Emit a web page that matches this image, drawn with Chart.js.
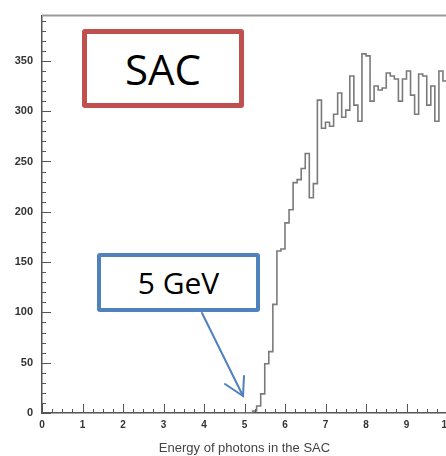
<!DOCTYPE html>
<html>
<head>
<meta charset="utf-8">
<script src="https://cdn.jsdelivr.net/npm/chart.js@4/dist/chart.umd.min.js"></script>
<style>
  html, body { margin: 0; padding: 0; background: #fff; width: 446px; height: 456px; overflow: hidden; }
  #wrap { position: relative; width: 470px; height: 456px; }
  canvas { position: absolute; left: 0; top: 0; }
  .callout { position: absolute; box-sizing: border-box; background: #fff; display: flex; align-items: center; justify-content: center; color: #000; font-family: "Liberation Sans Narrow", "Open Sans", sans-serif; border-radius: 3px; }
  #sac { left: 82px; top: 29px; width: 162px; height: 79px; border: 5px solid #c0504d; font-size: 42px; }
  #gev { left: 97px; top: 253px; width: 163px; height: 59px; border: 4px solid #4f81bd; font-size: 30px; }
  svg { position: absolute; left: 0; top: 0; }
</style>
</head>
<body>
<div id="wrap">
  <canvas id="chart" width="470" height="456"></canvas>
  <div class="callout" id="sac">SAC</div>
  <div class="callout" id="gev">5 GeV</div>
  <svg width="446" height="456">
    <g stroke="#4f81bd" stroke-width="2" fill="none" stroke-linecap="round">
      <line x1="202" y1="313" x2="243" y2="396"></line>
      <polyline points="225,384 243,396 244,376"></polyline>
    </g>
  </svg>
</div>
<script>
// bin lower edges (GeV), 0.1 GeV wide
const binEdges = [4.8, 4.9, 5.0, 5.1, 5.2, 5.3, 5.4, 5.5, 5.6, 5.7, 5.8, 5.9,
  6.0, 6.1, 6.2, 6.3, 6.4, 6.5, 6.6, 6.7, 6.8, 6.9,
  7.0, 7.1, 7.2, 7.3, 7.4, 7.5, 7.6, 7.7, 7.8, 7.9,
  8.0, 8.1, 8.2, 8.3, 8.4, 8.5, 8.6, 8.7, 8.8, 8.9,
  9.0, 9.1, 9.2, 9.3, 9.4, 9.5, 9.6, 9.7, 9.8, 9.9, 10.0];
// entries per bin (last entry repeats the final bin so the step reaches 10)
const binCounts = [0, 0, 0, 0, 2, 7, 19, 49, 61, 108, 161, 163,
  189, 202, 229, 232, 243, 258, 214, 228, 311, 283,
  289, 285, 297, 318, 294, 301, 335, 306, 290, 357,
  355, 310, 325, 321, 323, 338, 335, 332, 310, 332,
  340, 316, 297, 337, 335, 306, 325, 290, 340, 330, 330];

const xMin = 0, xMax = 10, xMajor = 1, xMinor = 0.25;
const yMin = 0, yMax = 395, yMajor = 50, yMinor = 10;
const axisTitle = 'Energy of photons in the SAC';

const histPoints = binEdges.map((e, i) => ({ x: e, y: binCounts[i] }));

const tickMarks = {
  id: 'tickMarks',
  afterDraw(chart) {
    const { ctx, chartArea, scales: { x, y } } = chart;
    ctx.save();
    ctx.strokeStyle = '#555';
    ctx.lineWidth = 1;
    ctx.beginPath();
    for (let v = yMin; v <= yMax; v += yMinor) {
      const py = Math.round(y.getPixelForValue(v)) + 0.5;
      const len = v % yMajor === 0 ? 9 : 4;
      ctx.moveTo(chartArea.left, py);
      ctx.lineTo(chartArea.left + len, py);
    }
    for (let v = xMin; v <= xMax + 1e-6; v += xMinor) {
      const px = Math.round(x.getPixelForValue(v)) + 0.5;
      const len = Math.abs(v - Math.round(v)) < 1e-6 ? 9 : 4;
      ctx.moveTo(px, chartArea.bottom);
      ctx.lineTo(px, chartArea.bottom - len);
    }
    ctx.stroke();
    // top frame line
    ctx.strokeStyle = '#999';
    ctx.lineWidth = 2;
    ctx.beginPath();
    ctx.moveTo(chartArea.left, chartArea.top);
    ctx.lineTo(chartArea.right, chartArea.top);
    ctx.stroke();
    ctx.restore();
  }
};

const ctx = document.getElementById('chart').getContext('2d');
new Chart(ctx, {
  type: 'line',
  data: {
    datasets: [{
      data: histPoints,
      stepped: true,
      borderColor: '#7a7a7a',
      borderWidth: 1.6,
      pointRadius: 0,
      fill: false
    }]
  },
  options: {
    responsive: false,
    animation: false,
    layout: { padding: { top: 5, right: 23, left: 0, bottom: 0 } },
    plugins: { legend: { display: false }, tooltip: { enabled: false } },
    scales: {
      x: {
        type: 'linear',
        min: xMin,
        max: xMax,
        grid: { display: false, drawTicks: false },
        border: { display: true, color: '#555', width: 1.5 },
        ticks: { stepSize: xMajor, padding: 6, color: '#333', font: { family: 'Liberation Sans', size: 10, weight: 'bold' }, maxRotation: 0 },
        title: { display: true, text: axisTitle, color: '#444', font: { family: 'Liberation Sans', size: 13 }, padding: { top: 0, bottom: 0 } },
        afterFit: s => { s.height = 43; }
      },
      y: {
        min: yMin,
        max: yMax,
        grid: { display: false, drawTicks: false },
        border: { display: true, color: '#555', width: 1.5 },
        ticks: { stepSize: yMajor, padding: 9, color: '#333', font: { family: 'Liberation Sans', size: 11, weight: 'bold' } },
        afterBuildTicks: s => { s.ticks = s.ticks.filter(t => t.value % yMajor === 0); },
        afterFit: s => { s.width = 42; }
      }
    }
  },
  plugins: [tickMarks]
});
</script>
</body>
</html>
